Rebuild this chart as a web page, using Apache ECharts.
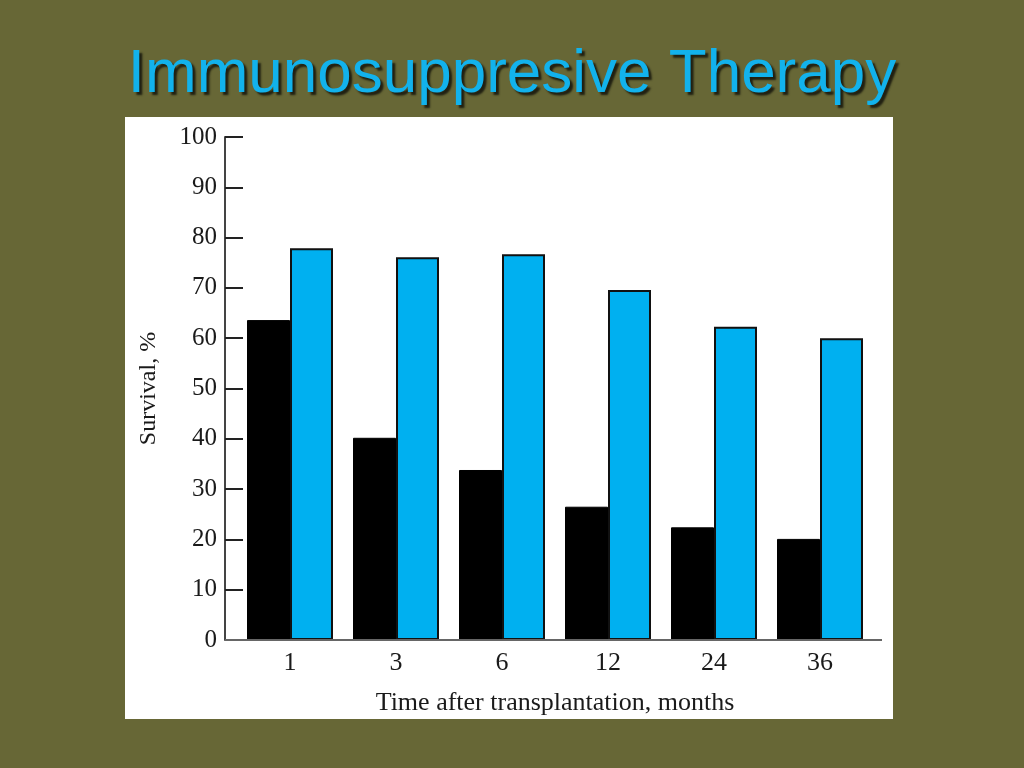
<!DOCTYPE html>
<html>
<head>
<meta charset="utf-8">
<script src="https://cdn.jsdelivr.net/npm/echarts@6/dist/echarts.min.js"></script>
<style>
  html, body { margin: 0; padding: 0; background: #676736; }
  #chart { width: 1024px; height: 768px; }
</style>
</head>
<body>
<div id="chart"></div>
<script>
"use strict";

const months = ["1", "3", "6", "12", "24", "36"];
const blackSurvival = [63.6, 40.2, 33.8, 26.5, 22.4, 20.1];
const blueSurvival = [77.9, 76.1, 76.7, 69.6, 62.3, 60.0];
const yTicks = [0, 10, 20, 30, 40, 50, 60, 70, 80, 90, 100];

const getElement = (id) => document.getElementById(id);
const chart = echarts.init(getElement("chart"), null, { width: 1024, height: 768 });

const serif = "Liberation Serif";
const ink = "#1a1a1a";

chart.setOption({
  backgroundColor: "#676736",
  animation: false,
  title: {
    text: "Immunosuppresive Therapy",
    left: "center",
    top: 39,
    textStyle: {
      fontFamily: "Liberation Sans",
      fontSize: 62,
      fontWeight: "normal",
      color: "#12b2ec",
      textShadowColor: "#202012",
      textShadowOffsetX: 3,
      textShadowOffsetY: 3,
      textShadowBlur: 2,
    },
  },
  graphic: [
    {
      // white plot panel
      type: "rect",
      z: -1,
      shape: { x: 125, y: 117, width: 768, height: 602 },
      style: { fill: "#ffffff" },
    },
    {
      // baseline runs a bit past the categories on both ends
      type: "line",
      z: 10,
      shape: { x1: 225, y1: 640, x2: 882, y2: 640 },
      style: { stroke: "#666", lineWidth: 2 },
    },
  ],
  grid: { left: 237, right: 151, top: 137, bottom: 128 },
  xAxis: {
    type: "category",
    data: months,
    axisLine: { show: false },
    axisTick: { show: false },
    axisLabel: { fontFamily: serif, fontSize: 26, color: ink, margin: 10 },
    name: "Time after transplantation, months",
    nameLocation: "middle",
    nameGap: 50,
    nameTextStyle: { fontFamily: serif, fontSize: 26, color: ink },
  },
  yAxis: {
    type: "value",
    min: yTicks[0],
    max: yTicks[yTicks.length - 1],
    interval: 10,
    offset: 12,
    splitLine: { show: false },
    axisLine: { show: true, lineStyle: { color: "#444", width: 2 } },
    axisTick: { show: true, inside: true, length: 18, lineStyle: { color: "#222", width: 2 } },
    axisLabel: { fontFamily: serif, fontSize: 25, color: ink, margin: 8 },
    name: "Survival, %",
    nameLocation: "middle",
    nameGap: 64,
    nameTextStyle: { fontFamily: serif, fontSize: 24, color: ink },
  },
  series: [
    {
      type: "bar",
      data: blackSurvival,
      barWidth: 43,
      barGap: "0%",
      itemStyle: { color: "#000000", borderColor: "#000", borderWidth: 1 },
    },
    {
      type: "bar",
      data: blueSurvival,
      barWidth: 43,
      itemStyle: { color: "#00b0f0", borderColor: "#111", borderWidth: 2 },
    },
  ],
});
</script>
</body>
</html>
